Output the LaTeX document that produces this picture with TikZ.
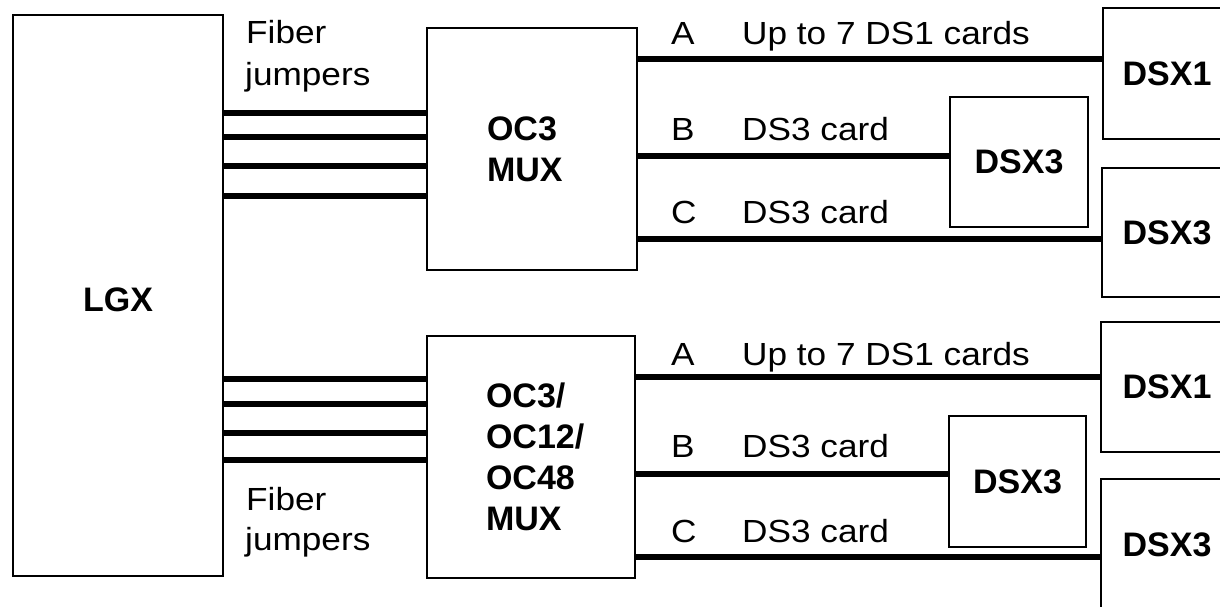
\documentclass[tikz,border=0pt]{standalone}
\usepackage{fontspec}
\setmainfont{Liberation Sans}
\newcommand\normfont{\fontsize{32}{38}\selectfont}
\newcommand\boldfont{\fontsize{34}{40.8}\selectfont\bfseries}
\newcommand\wtxt[1]{\scalebox{1.1}[1]{#1}}
\tikzset{
  box/.style={draw, line width=2pt, inner sep=0pt, font=\boldfont},
  lbl/.style={anchor=base west, inner sep=0pt, font=\normfont},
  wire/.style={line width=5.5pt},
}
\begin{document}
\begin{tikzpicture}[x=1pt, y=-1pt]
\useasboundingbox (0,0) rectangle (1220,606);
\fill[white] (0,0) rectangle (1220,606);
\clip (0,0) rectangle (1220,606);

% main boxes
\node[box, minimum width=210pt, minimum height=561pt] (lgx) at (118,295.5) {\raisebox{-4pt}[\height][\depth]{LGX}};
\node[box, minimum height=242pt, text width=90pt, inner xsep=60pt, align=left] (muxa) at (532,149) {OC3\\MUX};
\node[box, minimum height=242pt, text width=90pt, inner xsep=59pt, align=left] (muxb) at (531,457) {OC3/\\OC12/\\OC48\\MUX};

% DSX boxes (top)
\node[box, minimum width=128pt, minimum height=131pt] (dsx1a) at (1167,73.5) {DSX1};
\node[box, minimum width=138pt, minimum height=130pt] (dsx3ai) at (1019,162) {DSX3};
\node[box, minimum width=130pt, minimum height=129pt] (dsx3ao) at (1167,232.5) {DSX3};
% DSX boxes (bottom)
\node[box, minimum width=132pt, minimum height=130pt] (dsx1b) at (1167,387) {DSX1};
\node[box, minimum width=137pt, minimum height=131pt] (dsx3bi) at (1017.5,481.5) {DSX3};
\node[box, minimum width=132pt, minimum height=132pt] (dsx3bo) at (1167,545) {DSX3};

% fiber jumpers
\foreach \y in {113,137,166,196}
  \draw[wire] (lgx.east |- 0,\y) -- (muxa.west |- 0,\y);
\foreach \y in {379,404,433,460}
  \draw[wire] (lgx.east |- 0,\y) -- (muxb.west |- 0,\y);

% output wires
\draw[wire] (muxa.east |- 0,59) -- (dsx1a.west |- 0,59);
\draw[wire] (muxa.east |- 0,156) -- (dsx3ai.west |- 0,156);
\draw[wire] (muxa.east |- 0,239) -- (dsx3ao.west |- 0,239);
\draw[wire] (muxb.east |- 0,377) -- (dsx1b.west |- 0,377);
\draw[wire] (muxb.east |- 0,474) -- (dsx3bi.west |- 0,474);
\draw[wire] (muxb.east |- 0,557) -- (dsx3bo.west |- 0,557);

% labels
\node[lbl] (fa1) at (246,43) {\wtxt{Fiber}};
\node[lbl] (fa2) at (245,85) {\wtxt{jumpers}};
\node[lbl] (fb1) at (246,510) {\wtxt{Fiber}};
\node[lbl] (fb2) at (245,550) {\wtxt{jumpers}};

\node[lbl] (la) at (671,44) {\wtxt{A}};
\node[lbl] (ta) at (742,44) {\wtxt{Up to 7 DS1 cards}};
\node[lbl] (lb) at (671,140) {\wtxt{B}};
\node[lbl] (tb) at (742,140) {\wtxt{DS3 card}};
\node[lbl] (lc) at (671,223) {\wtxt{C}};
\node[lbl] (tc) at (742,223) {\wtxt{DS3 card}};

\node[lbl] (la2) at (671,365) {\wtxt{A}};
\node[lbl] (ta2) at (742,365) {\wtxt{Up to 7 DS1 cards}};
\node[lbl] (lb2) at (671,457) {\wtxt{B}};
\node[lbl] (tb2) at (742,457) {\wtxt{DS3 card}};
\node[lbl] (lc2) at (671,542) {\wtxt{C}};
\node[lbl] (tc2) at (742,542) {\wtxt{DS3 card}};
\end{tikzpicture}
\end{document}
